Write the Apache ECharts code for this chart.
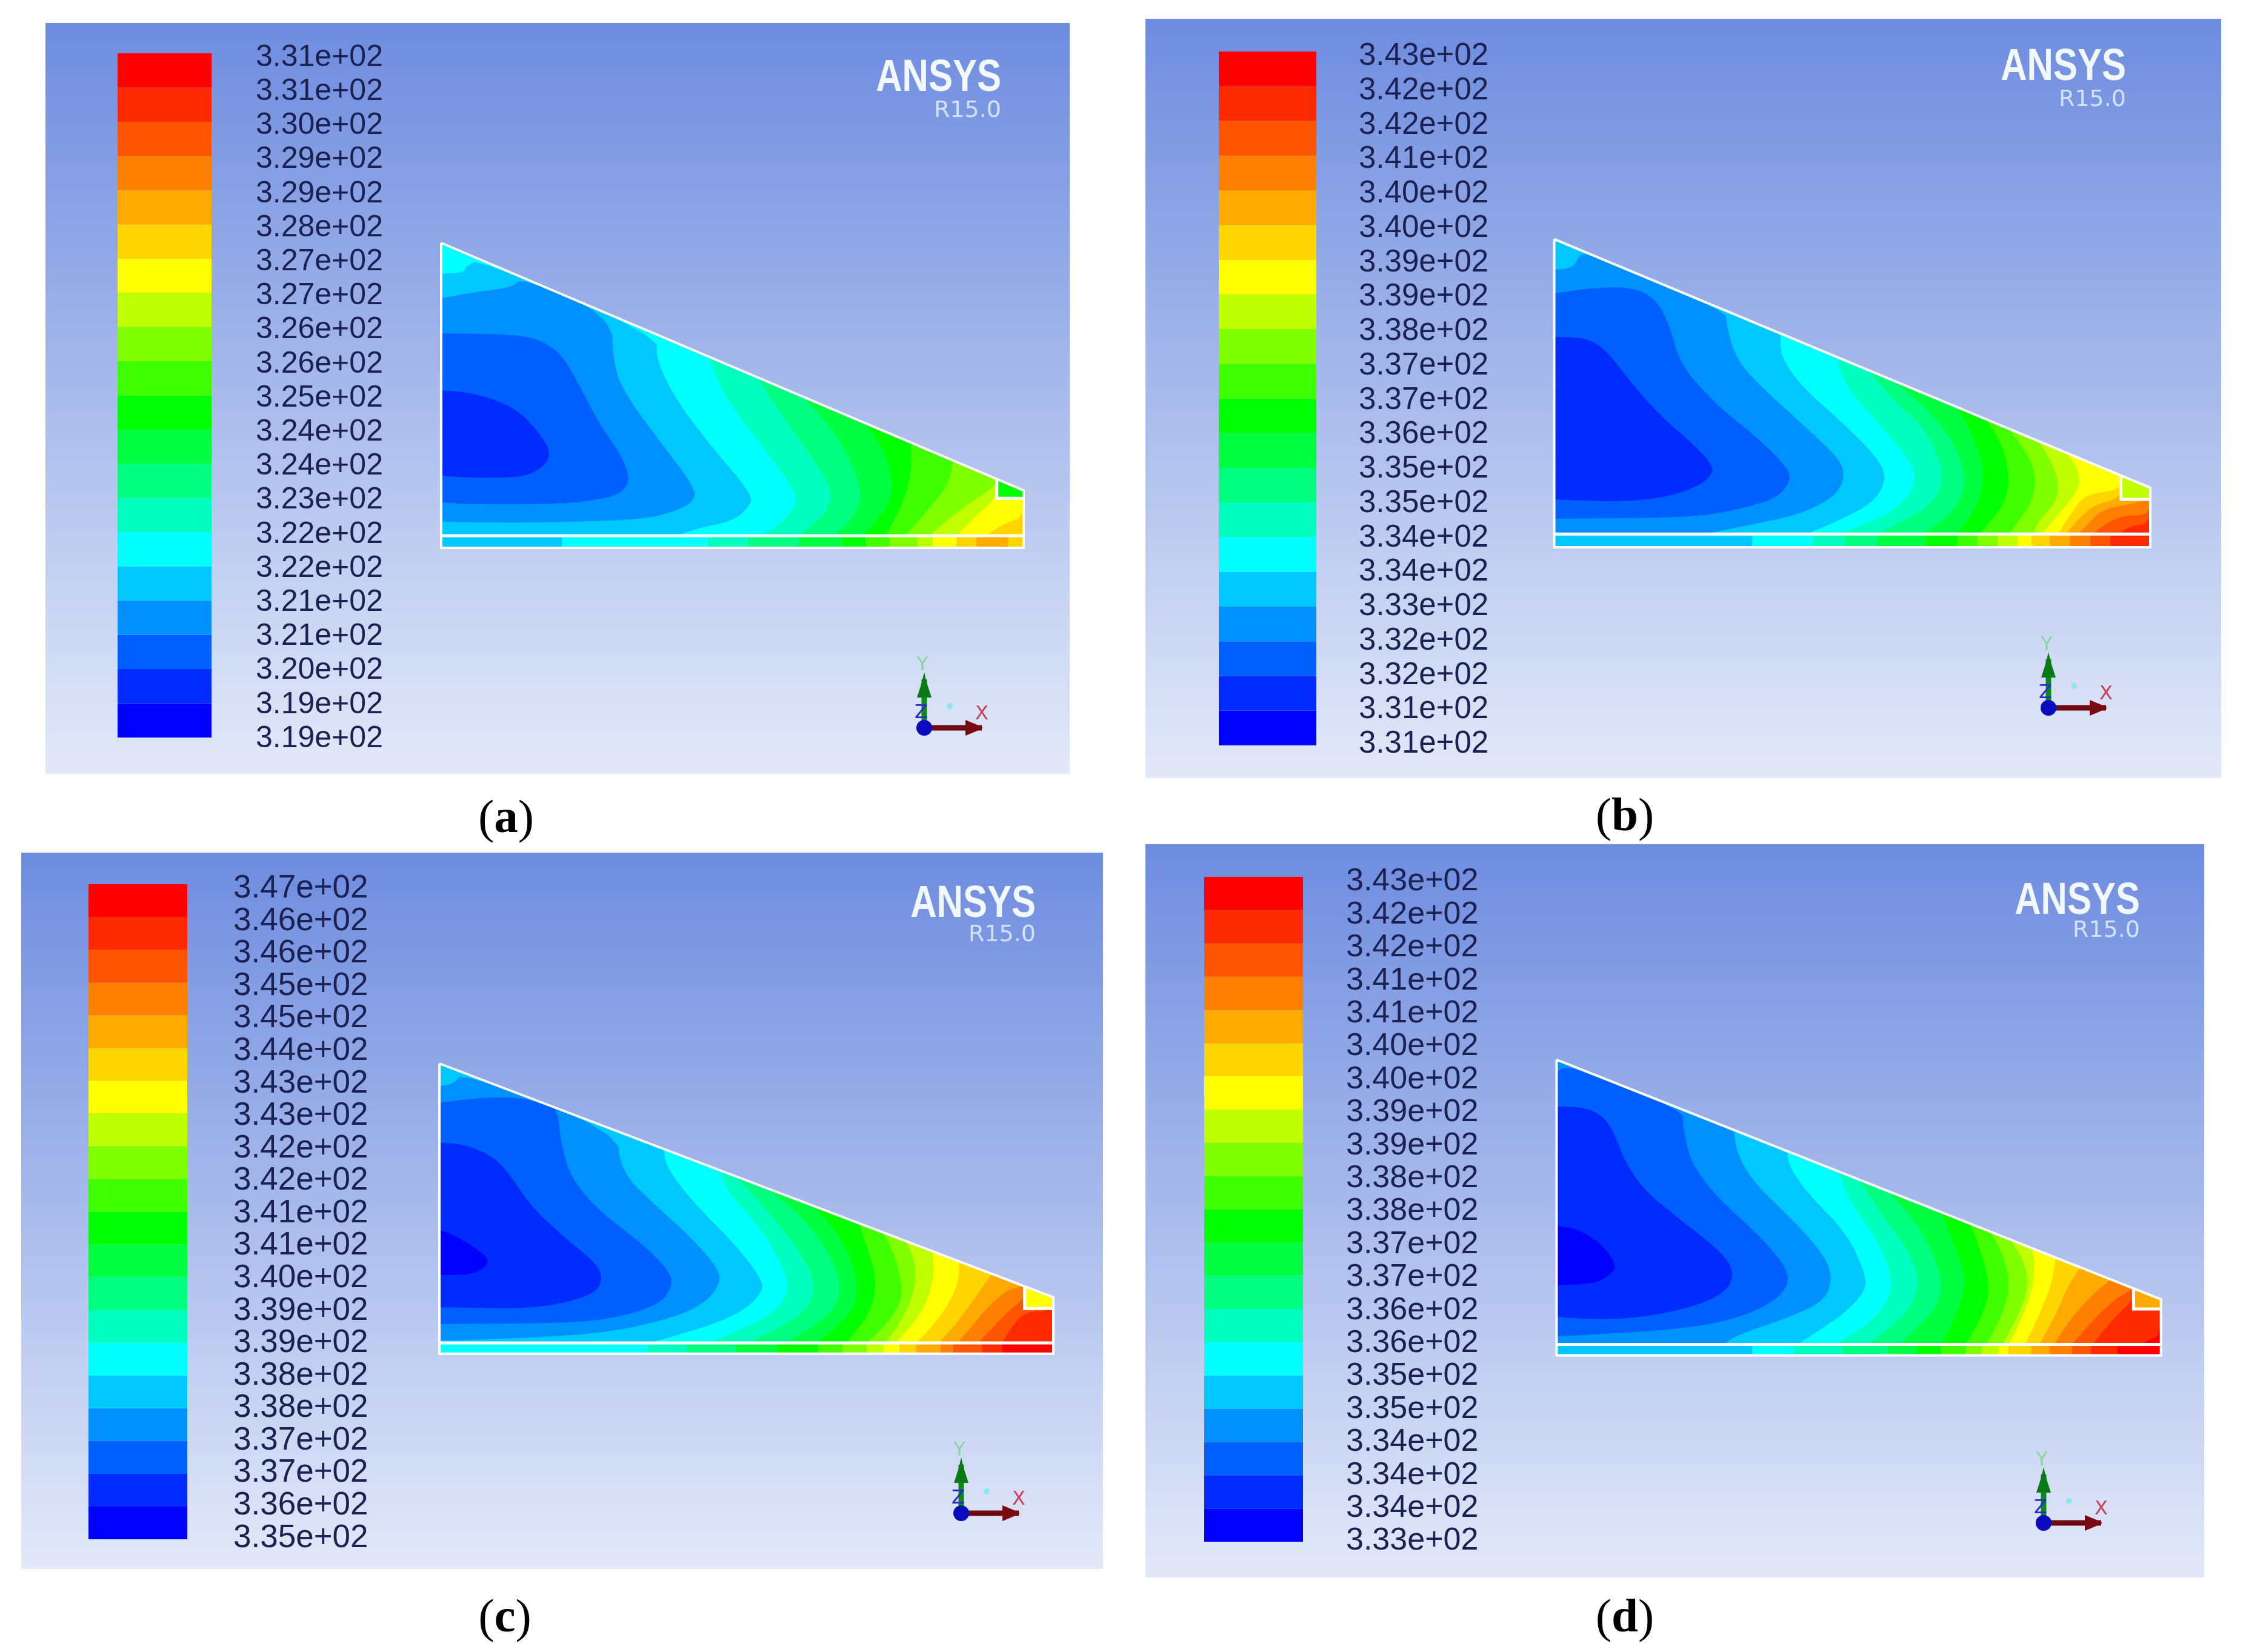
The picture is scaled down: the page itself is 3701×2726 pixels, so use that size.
<!DOCTYPE html>
<html><head><meta charset="utf-8">
<script src="https://cdn.jsdelivr.net/npm/echarts@6/dist/echarts.min.js"></script>
<style>html,body{margin:0;padding:0;background:#fff}#c{width:3701px;height:2726px}</style>
</head><body><div id="c"></div>
<script>
// Contour band palette, lowest band first
const bandColors = ['#0000ff','#002bff','#0060ff','#0090ff','#00c8ff','#00ffff','#00ffbf','#00ff80','#00ff40','#00ff00',
  '#40ff00','#80ff00','#bfff00','#ffff00','#ffd500','#ffaa00','#ff8000','#ff5500','#ff2a00','#ff0000'];

// Legend tick labels, top to bottom
const labelsA = ['3.31e+02','3.31e+02','3.30e+02','3.29e+02','3.29e+02','3.28e+02','3.27e+02','3.27e+02','3.26e+02','3.26e+02','3.25e+02','3.24e+02','3.24e+02','3.23e+02','3.22e+02','3.22e+02','3.21e+02','3.21e+02','3.20e+02','3.19e+02','3.19e+02'];
const labelsB = ['3.43e+02','3.42e+02','3.42e+02','3.41e+02','3.40e+02','3.40e+02','3.39e+02','3.39e+02','3.38e+02','3.37e+02','3.37e+02','3.36e+02','3.35e+02','3.35e+02','3.34e+02','3.34e+02','3.33e+02','3.32e+02','3.32e+02','3.31e+02','3.31e+02'];
const labelsC = ['3.47e+02','3.46e+02','3.46e+02','3.45e+02','3.45e+02','3.44e+02','3.43e+02','3.43e+02','3.42e+02','3.42e+02','3.41e+02','3.41e+02','3.40e+02','3.39e+02','3.39e+02','3.38e+02','3.38e+02','3.37e+02','3.37e+02','3.36e+02','3.35e+02'];
const labelsD = ['3.43e+02','3.42e+02','3.42e+02','3.41e+02','3.41e+02','3.40e+02','3.40e+02','3.39e+02','3.39e+02','3.38e+02','3.38e+02','3.37e+02','3.37e+02','3.36e+02','3.36e+02','3.35e+02','3.35e+02','3.34e+02','3.34e+02','3.34e+02','3.33e+02'];

// Domain outline of each panel in mesh units
const meshA = {left:43, right:1520, apex:60, hypEnd:1225, strip:1438, bottom:1495, notchX:1452, notchY:1262};
const meshB = {left:37, right:1520, apex:70, hypEnd:1240, strip:1458, bottom:1520, notchX:1447, notchY:1295};
const meshC = {left:37, right:1535, apex:75, hypEnd:1215, strip:1438, bottom:1490, notchX:1465, notchY:1270};
const meshD = {left:42, right:1517, apex:55, hypEnd:1225, strip:1445, bottom:1498, notchX:1450, notchY:1272};

// Highest band filling the body, band of the small corner piece
const baseBandA = 14, notchBandA = 9;
const baseBandB = 18, notchBandB = 12;
const baseBandC = 18, notchBandC = 13;
const baseBandD = 19, notchBandD = 15;

// Iso-temperature regions: [band, boundary of the part of the body at or below that band]
const contoursA = [
 [1,[[43,755],[100,760],[170,790],[240,850],[290,950],[320,1040],[310,1100],[270,1150],[220,1165],[100,1165],[43,1155]]],
 [2,[[43,485],[230,490],[300,520],[350,590],[385,700],[440,900],[500,1060],[520,1160],[510,1220],[470,1260],[350,1290],[100,1290],[43,1280]]],
 [3,[[43,320],[130,290],[220,270],[250,223],[475,401],[480,650],[520,800],[600,1000],[690,1220],[680,1280],[640,1320],[560,1360],[350,1375],[100,1375],[43,1370]]],
 [4,[[43,205],[100,200],[105,170],[140,137],[590,491],[590,620],[640,800],[720,1000],[835,1250],[820,1310],[780,1370],[700,1400],[640,1438]]],
 [5,[[720,594],[760,780],[850,1000],[950,1250],[930,1330],[890,1400],[850,1438]]],
 [6,[[845,693],[880,800],[950,980],[1030,1200],[1030,1300],[990,1380],[950,1438]]],
 [7,[[960,783],[1040,950],[1090,1120],[1110,1250],[1090,1350],[1040,1438]]],
 [8,[[1120,910],[1170,1050],[1190,1200],[1170,1320],[1110,1438]]],
 [9,[[1235,1000],[1235,1150],[1210,1300],[1170,1438]]],
 [10,[[1340,1083],[1330,1200],[1270,1330],[1220,1438]]],
 [11,[[1452,1172],[1452,1200],[1340,1340],[1280,1438]]],
 [12,[[1452,1172],[1452,1260],[1400,1340],[1350,1438]]],
 [13,[[1520,1225],[1520,1350],[1470,1380],[1425,1438]]]
];
const contoursB = [
 [1,[[37,530],[120,535],[170,600],[230,750],[300,900],[380,1030],[430,1130],[430,1180],[390,1240],[300,1290],[200,1305],[100,1300],[37,1295]]],
 [2,[[37,325],[130,300],[230,295],[290,350],[325,480],[350,660],[440,850],[540,1000],[620,1150],[625,1210],[590,1290],[500,1340],[380,1380],[100,1385],[37,1385]]],
 [3,[[37,215],[85,205],[100,140],[125,139],[465,408],[465,470],[490,640],[560,780],[660,950],[750,1110],[760,1200],[730,1290],[640,1370],[510,1420],[410,1458]]],
 [4,[[600,514],[600,620],[650,760],[770,960],[855,1130],[860,1220],[830,1310],[750,1390],[665,1458]]],
 [5,[[740,625],[760,760],[850,950],[930,1130],[935,1230],[900,1320],[830,1400],[740,1458]]],
 [6,[[820,688],[880,830],[960,960],[1000,1130],[1000,1250],[960,1340],[880,1420],[840,1458]]],
 [7,[[880,735],[960,860],[1030,1020],[1060,1180],[1050,1300],[1000,1400],[950,1458]]],
 [8,[[1040,861],[1080,1000],[1105,1150],[1100,1280],[1070,1380],[1040,1458]]],
 [9,[[1110,916],[1150,1030],[1170,1180],[1160,1300],[1130,1380],[1095,1458]]],
 [10,[[1170,964],[1220,1100],[1235,1200],[1225,1310],[1190,1400],[1170,1458]]],
 [11,[[1240,1019],[1270,1100],[1295,1230],[1280,1320],[1240,1400],[1230,1458]]],
 [12,[[1310,1074],[1340,1150],[1345,1230],[1320,1300],[1280,1390],[1250,1458]]],
 [13,[[1447,1183],[1447,1250],[1360,1270],[1330,1340],[1290,1458]]],
 [14,[[1447,1183],[1447,1290],[1380,1320],[1340,1390],[1310,1458]]],
 [15,[[1520,1240],[1520,1300],[1400,1340],[1370,1400],[1340,1458]]],
 [16,[[1520,1240],[1520,1370],[1450,1370],[1400,1420],[1380,1458]]],
 [17,[[1520,1240],[1520,1410],[1470,1420],[1440,1458]]]
];
const contoursC = [
 [0,[[37,885],[80,920],[130,980],[160,1040],[140,1080],[110,1105],[37,1105]]],
 [1,[[37,460],[100,470],[170,530],[210,620],[260,770],[340,920],[420,1050],[435,1120],[420,1190],[350,1240],[250,1270],[100,1265],[37,1265]]],
 [2,[[37,265],[150,240],[230,240],[300,275],[325,300],[335,480],[360,640],[430,800],[530,950],[600,1090],[605,1160],[580,1240],[500,1300],[380,1340],[100,1345],[37,1345]]],
 [3,[[37,185],[70,175],[95,119],[470,405],[480,600],[560,760],[650,920],[720,1080],[720,1160],[680,1250],[600,1320],[430,1395],[100,1425],[37,1425]]],
 [4,[[585,492],[590,580],[660,760],[760,960],[825,1130],[825,1190],[780,1280],[700,1350],[600,1410],[545,1438]]],
 [5,[[720,595],[740,700],[830,900],[890,1130],[880,1230],[830,1320],[740,1400],[690,1438]]],
 [6,[[760,625],[840,800],[920,1000],[955,1150],[940,1260],[880,1350],[790,1438]]],
 [7,[[840,686],[920,820],[990,1000],[1020,1180],[990,1300],[930,1380],[880,1438]]],
 [8,[[950,770],[1000,880],[1040,1020],[1060,1180],[1040,1300],[960,1438]]],
 [9,[[1060,854],[1085,1000],[1105,1150],[1085,1300],[1030,1438]]],
 [10,[[1120,899],[1150,1020],[1170,1200],[1140,1320],[1080,1438]]],
 [11,[[1175,941],[1200,1050],[1195,1200],[1160,1340],[1125,1438]]],
 [12,[[1240,990],[1245,1100],[1225,1250],[1190,1350],[1150,1438]]],
 [13,[[1305,1040],[1305,1130],[1280,1250],[1230,1380],[1200,1438]]],
 [14,[[1385,1101],[1350,1200],[1300,1340],[1255,1438]]],
 [15,[[1465,1162],[1430,1170],[1380,1250],[1330,1370],[1300,1438]]],
 [16,[[1465,1162],[1465,1220],[1420,1290],[1370,1400],[1350,1438]]],
 [17,[[1535,1215],[1535,1280],[1465,1285],[1430,1370],[1410,1438]]]
];
const contoursD = [
 [0,[[42,865],[90,880],[150,950],[190,1060],[170,1110],[130,1150],[42,1155]]],
 [1,[[42,285],[100,285],[150,320],[180,400],[210,560],[260,700],[340,830],[430,970],[470,1060],[470,1150],[430,1220],[340,1280],[220,1320],[100,1320],[42,1310]]],
 [2,[[42,115],[70,77],[350,299],[350,380],[370,560],[430,720],[530,900],[600,1060],[610,1150],[570,1240],[480,1320],[350,1370],[100,1400],[42,1405]]],
 [3,[[475,398],[480,500],[520,650],[620,840],[700,1020],[715,1140],[690,1240],[600,1320],[480,1400],[450,1445]]],
 [4,[[605,501],[610,580],[660,720],[750,900],[800,1120],[790,1200],[740,1300],[680,1380],[630,1445]]],
 [5,[[730,600],[760,760],[830,950],[860,1120],[850,1240],[800,1350],[720,1445]]],
 [6,[[780,640],[830,800],[900,980],[930,1150],[900,1280],[840,1390],[800,1445]]],
 [7,[[850,696],[920,850],[960,1000],[985,1150],[965,1280],[900,1400],[880,1445]]],
 [8,[[980,799],[1000,900],[1030,1050],[1040,1150],[1020,1290],[980,1445]]],
 [9,[[1050,854],[1070,950],[1100,1150],[1085,1290],[1040,1445]]],
 [10,[[1100,894],[1130,1000],[1150,1150],[1130,1300],[1090,1445]]],
 [11,[[1150,934],[1180,1030],[1195,1150],[1170,1300],[1130,1445]]],
 [12,[[1200,973],[1210,1050],[1200,1200],[1170,1350],[1145,1445]]],
 [13,[[1260,1021],[1250,1150],[1220,1300],[1185,1445]]],
 [14,[[1320,1068],[1290,1160],[1260,1300],[1220,1445]]],
 [15,[[1395,1128],[1350,1200],[1300,1310],[1255,1445]]],
 [16,[[1450,1171],[1400,1230],[1340,1350],[1300,1445]]],
 [17,[[1450,1171],[1450,1225],[1400,1320],[1350,1445]]],
 [18,[[1517,1225],[1517,1400],[1480,1430],[1470,1445]]]
];

// Thin bottom strip: [band, right end of that band]
const stripA = [[4,350],[5,720],[6,820],[7,950],[8,1060],[9,1120],[10,1180],[11,1250],[12,1290],[13,1350],[14,1400],[15,1480],[14,1520]];
const stripB = [[4,530],[5,680],[6,760],[7,840],[8,960],[9,1040],[10,1090],[11,1140],[12,1190],[13,1225],[14,1270],[15,1320],[16,1370],[17,1420],[18,1520]];
const stripC = [[5,545],[6,640],[7,760],[8,860],[9,960],[10,1020],[11,1080],[12,1120],[13,1160],[14,1200],[15,1260],[16,1290],[17,1360],[18,1410],[19,1535]];
const stripD = [[4,520],[5,620],[6,740],[7,850],[8,920],[9,980],[10,1040],[11,1080],[12,1120],[13,1145],[14,1200],[15,1245],[16,1300],[17,1345],[18,1410],[19,1517]];

// Page layout of the four panels (pixels)
const layouts = [
 {tag:'a', rect:[75,38,1765,1277], field:[728,401,1689,904], bar:[194,88,349,1217], tickSpan:[95,1219], gap:73, font:50, logoR:1652, logoY:129, verY:183, triad:[1525,1201], cap:[835,1353], mesh:meshA, contours:contoursA, strip:stripA, base:baseBandA, notch:notchBandA, labels:labelsA},
 {tag:'b', rect:[1890,31,3665,1284], field:[2564.5,394.6,3548,903], bar:[2011,85,2172,1230], tickSpan:[93,1228], gap:70, font:51, logoR:3508, logoY:111, verY:165, triad:[3380,1168], cap:[2681,1350], mesh:meshB, contours:contoursB, strip:stripB, base:baseBandB, notch:notchBandB, labels:labelsB},
 {tag:'c', rect:[35,1407,1820,2589], field:[725,1755,1738,2233.7], bar:[146,1459,309,2540], tickSpan:[1466.5,2538], gap:76, font:53, logoR:1709, logoY:1492, verY:1543, triad:[1586,2497], cap:[833,2672], mesh:meshC, contours:contoursC, strip:stripC, base:baseBandC, notch:notchBandC, labels:labelsC},
 {tag:'d', rect:[1890,1393,3637,2603], field:[2568.4,1748.6,3565.7,2236.4], bar:[1987,1447,2150,2544], tickSpan:[1455,2543], gap:71, font:52, logoR:3531, logoY:1487, verY:1536, triad:[3372,2513], cap:[2681,2672], mesh:meshD, contours:contoursD, strip:stripD, base:baseBandD, notch:notchBandD, labels:labelsD}
];

function hypY(m, x){ return m.apex + (m.hypEnd - m.apex) * (x - m.left) / (m.right - m.left); }
// Corner rounding of a drawn contour line (end points stay put); the read values are not changed.
function rounded(pts){
  let cur = pts;
  for (let it = 0; it < 2; it++) {
    const next = [cur[0]];
    for (let i = 0; i < cur.length - 1; i++) {
      const a = cur[i], b = cur[i+1];
      if (i > 0) next.push([a[0]*0.75+b[0]*0.25, a[1]*0.75+b[1]*0.25]);
      if (i < cur.length - 2) next.push([a[0]*0.25+b[0]*0.75, a[1]*0.25+b[1]*0.75]);
    }
    next.push(cur[cur.length-1]);
    cur = next;
  }
  return cur;
}
function closeRegion(pts, m){
  const out = rounded(pts);
  if (out[0][0] !== m.left) out.unshift([m.left, m.apex]);
  if (out[out.length-1][0] !== m.left) out.push([m.left, m.strip]);
  return out;
}
function buildShapes(p){
  const m = p.mesh, shapes = [];
  let xPrev = m.left;
  p.strip.forEach(([band, xEnd]) => {
    shapes.push({band, pts:[[xPrev,m.strip],[xEnd,m.strip],[xEnd,m.bottom],[xPrev,m.bottom]]});
    xPrev = xEnd;
  });
  shapes.push({band:p.base, pts:[[m.left,m.apex],[m.right,m.hypEnd],[m.right,m.strip],[m.left,m.strip]]});
  p.contours.slice().reverse().forEach(([band, pts]) => shapes.push({band, pts:closeRegion(pts, m)}));
  shapes.push({band:p.notch, pts:[[m.notchX,hypY(m,m.notchX)],[m.right,m.hypEnd],[m.right,m.notchY],[m.notchX,m.notchY]]});
  shapes.push({line:[[m.left,m.apex],[m.right,m.hypEnd],[m.right,m.bottom],[m.left,m.bottom],[m.left,m.apex]], w:4});
  shapes.push({line:[[m.left,m.strip],[m.right,m.strip]], w:5});
  shapes.push({line:[[m.notchX,hypY(m,m.notchX)],[m.notchX,m.notchY],[m.right,m.notchY]], w:5});
  return shapes;
}

const grid = [], xAxis = [], yAxis = [], series = [], graphic = [];
layouts.forEach((p, i) => {
  const [r0,r1,r2,r3] = p.rect;
  graphic.push({type:'rect', z:-10, silent:true, shape:{x:r0,y:r1,width:r2-r0,height:r3-r1},
    style:{fill:new echarts.graphic.LinearGradient(0,0,0,1,[{offset:0,color:'#6e8cdf'},{offset:1,color:'#e3e9f8'}])}});

  // contour field
  const m = p.mesh, f = p.field, shapes = buildShapes(p), gf = grid.length;
  grid.push({left:f[0], top:f[1], width:f[2]-f[0], height:f[3]-f[1], show:false});
  xAxis.push({type:'value', gridIndex:gf, min:m.left, max:m.right, show:false, splitLine:{show:false}});
  yAxis.push({type:'value', gridIndex:gf, min:m.apex, max:m.bottom, inverse:true, show:false, splitLine:{show:false}});
  series.push({type:'custom', name:'field '+p.tag, xAxisIndex:gf, yAxisIndex:gf, clip:false, silent:true, animation:false,
    data:shapes.map((s,k)=>[k]), encode:{x:-1,y:-1},
    renderItem:(params, api)=>{
      const s = shapes[api.value(0)];
      if (s.line) return {type:'polyline', shape:{points:s.line.map(q=>api.coord(q))}, style:{stroke:'#ffffff', lineWidth:s.w, fill:null}};
      return {type:'polygon', shape:{points:s.pts.map(q=>api.coord(q))}, style:{fill:bandColors[s.band]}};
    }});

  // colour legend bar
  const b = p.bar, gb = grid.length;
  grid.push({left:b[0], top:b[1], width:b[2]-b[0], height:b[3]-b[1], show:false});
  xAxis.push({type:'value', gridIndex:gb, min:0, max:1, show:false, splitLine:{show:false}});
  yAxis.push({type:'value', gridIndex:gb, min:0, max:20, interval:1, show:false, splitLine:{show:false}});
  series.push({type:'custom', name:'legend '+p.tag, xAxisIndex:gb, yAxisIndex:gb, clip:false, silent:true, animation:false,
    data:bandColors.map((c,k)=>[k]), encode:{x:-1,y:-1},
    renderItem:(params, api)=>{
      const k = api.value(0), a = api.coord([0,k]), c = api.coord([1,k+1]);
      return {type:'rect', shape:{x:a[0], y:c[1], width:c[0]-a[0], height:a[1]-c[1]}, style:{fill:bandColors[k]}};
    }});

  // legend tick labels (their column is a little shorter than the bar)
  const gl = grid.length;
  grid.push({left:b[0], top:p.tickSpan[0], width:b[2]-b[0], height:p.tickSpan[1]-p.tickSpan[0], show:false});
  xAxis.push({type:'value', gridIndex:gl, min:0, max:1, show:false, splitLine:{show:false}});
  yAxis.push({type:'value', gridIndex:gl, min:0, max:20, interval:1, position:'right', axisLine:{show:false}, axisTick:{show:false}, splitLine:{show:false},
    axisLabel:{show:true, margin:p.gap, color:'#1b2152', fontSize:p.font, fontFamily:'Liberation Sans', showMinLabel:true, showMaxLabel:true, hideOverlap:false,
      formatter:v=>p.labels[20-v]}});

  // logo
  graphic.push({type:'text', z:5, silent:true, x:p.logoR, y:p.logoY, scaleX:0.8, style:{x:0, y:0, text:'ANSYS', align:'right', verticalAlign:'middle', fill:'#f2f8ff',
    font:'bold 75px "Liberation Sans"'}});
  graphic.push({type:'text', z:5, silent:true, style:{x:p.logoR, y:p.verY, text:'R15.0', align:'right', verticalAlign:'middle', fill:'#d3e2fb',
    font:'38px "DejaVu Sans"'}});

  // coordinate triad
  const [tx,ty] = p.triad;
  graphic.push({type:'group', x:tx, y:ty, z:5, silent:true, children:[
    {type:'line', shape:{x1:0,y1:0,x2:0,y2:-80}, style:{stroke:'#0a8a1a', lineWidth:9}},
    {type:'polygon', shape:{points:[[-12,-50],[12,-50],[4,-75],[0,-92],[-4,-75]]}, style:{fill:'#0a7a18'}},
    {type:'line', shape:{x1:0,y1:0,x2:95,y2:0}, style:{stroke:'#6e0a12', lineWidth:9}},
    {type:'polygon', shape:{points:[[68,-13],[68,13],[85,6],[97,0],[85,-6]]}, style:{fill:'#7a0a12'}},
    {type:'circle', shape:{cx:0,cy:0,r:13}, style:{fill:'#0a0ac0'}},
    {type:'text', style:{x:-5,y:-24,text:'Z',align:'center',verticalAlign:'middle',fill:'#2a2ac8',font:'32px "DejaVu Sans"'}},
    {type:'text', style:{x:-3,y:-103,text:'Y',align:'center',verticalAlign:'middle',fill:'#86d8a0',font:'32px "DejaVu Sans"'}},
    {type:'text', style:{x:95,y:-22,text:'X',align:'center',verticalAlign:'middle',fill:'#c8405a',font:'32px "DejaVu Sans"'}},
    {type:'circle', shape:{cx:42,cy:-36,r:5}, style:{fill:'#8fe6ee'}}
  ]});

  // caption
  graphic.push({type:'text', z:5, silent:true, style:{x:p.cap[0], y:p.cap[1], align:'center', verticalAlign:'middle',
    text:'{r|(}{b|'+p.tag+'}{r|)}',
    rich:{r:{font:'79px "Liberation Serif"', fill:'#000'}, b:{font:'bold 79px "Liberation Serif"', fill:'#000'}}}});
});

const chart = echarts.init(document.getElementById('c'), null, {renderer:'canvas', width:3701, height:2726});
chart.setOption({animation:false, backgroundColor:'#ffffff', tooltip:{show:false}, grid, xAxis, yAxis, series, graphic});
</script></body></html>
